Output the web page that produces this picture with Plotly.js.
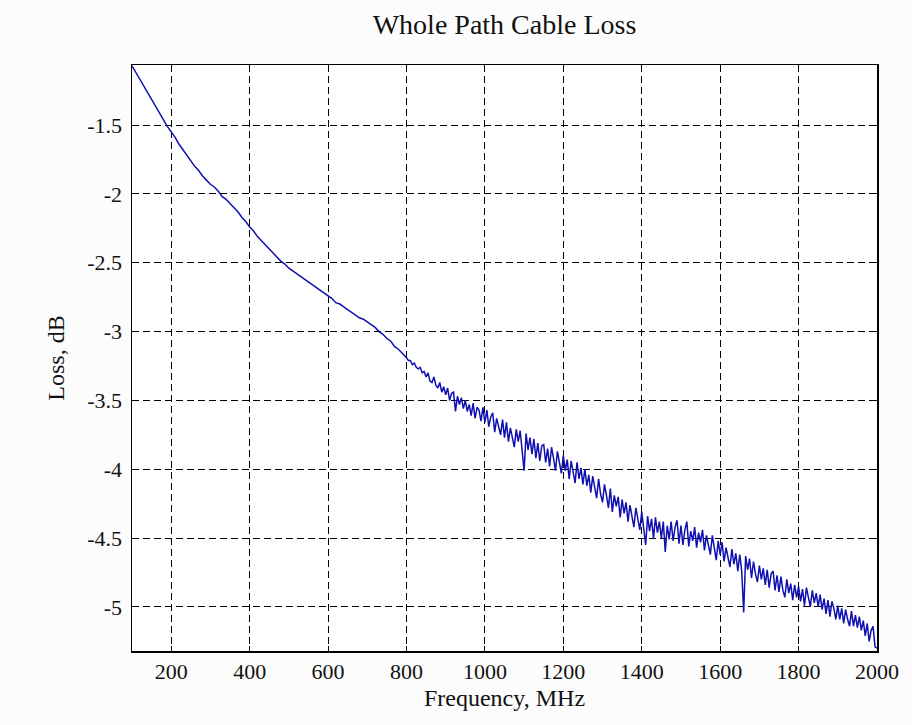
<!DOCTYPE html>
<html>
<head>
<meta charset="utf-8">
<script src="https://cdn.plot.ly/plotly-3.0.1.min.js"></script>
<style>
  html, body { margin: 0; padding: 0; background: #fcfcfc; }
  #chart { width: 912px; height: 725px; }
</style>
</head>
<body>
<div id="chart"></div>
<script>
// Low band of the sweep: 100 ... 800 MHz, 10 MHz steps
const lowStart = 100;
const lowStep = 10;
const lowLossDb = [
  -1.07, -1.12, -1.17, -1.22, -1.27, -1.32, -1.37, -1.41, -1.46, -1.51,
  -1.55, -1.59, -1.64, -1.68, -1.72, -1.76, -1.80, -1.83, -1.87, -1.90,
  -1.93, -1.95, -1.98, -2.02, -2.04, -2.07, -2.10, -2.13, -2.17, -2.20,
  -2.24, -2.27, -2.31, -2.34, -2.37, -2.40, -2.43, -2.46, -2.49, -2.51,
  -2.54, -2.56, -2.58, -2.60, -2.62, -2.64, -2.66, -2.68, -2.70, -2.72,
  -2.74, -2.76, -2.79, -2.80, -2.82, -2.84, -2.86, -2.88, -2.90, -2.91,
  -2.93, -2.95, -2.97, -3.00, -3.02, -3.05, -3.07, -3.11, -3.13, -3.16,
  -3.19
];

// High band of the sweep: 800 ... 2000 MHz, 5 MHz steps
const highStart = 800;
const highStep = 5;
const highLossDb = [
  -3.19, -3.21, -3.21, -3.24, -3.23, -3.26, -3.27, -3.26, -3.30, -3.29,
  -3.33, -3.30, -3.36, -3.37, -3.33, -3.39, -3.41, -3.37, -3.44, -3.40,
  -3.46, -3.41, -3.50, -3.45, -3.44, -3.58, -3.47, -3.53, -3.48, -3.56,
  -3.50, -3.58, -3.53, -3.61, -3.52, -3.63, -3.55, -3.57, -3.65, -3.55,
  -3.66, -3.57, -3.69, -3.62, -3.59, -3.73, -3.63, -3.70, -3.75, -3.64,
  -3.77, -3.66, -3.80, -3.70, -3.76, -3.84, -3.71, -3.80, -3.72, -3.86,
  -4.01, -3.74, -3.86, -3.77, -3.89, -3.78, -3.92, -3.81, -3.94, -3.83,
  -3.82, -3.95, -3.85, -3.98, -3.84, -3.92, -4.01, -3.87, -3.94, -4.03,
  -3.90, -4.01, -3.93, -4.07, -3.94, -4.01, -4.10, -3.95, -4.07, -3.99,
  -4.11, -4.00, -4.12, -4.04, -4.17, -4.05, -4.13, -4.21, -4.07, -4.18,
  -4.24, -4.11, -4.19, -4.28, -4.14, -4.31, -4.19, -4.27, -4.20, -4.35,
  -4.22, -4.32, -4.24, -4.38, -4.26, -4.33, -4.42, -4.28, -4.37, -4.44,
  -4.31, -4.43, -4.55, -4.34, -4.45, -4.36, -4.50, -4.35, -4.46, -4.38,
  -4.50, -4.38, -4.60, -4.41, -4.51, -4.38, -4.52, -4.42, -4.37, -4.54,
  -4.41, -4.55, -4.44, -4.38, -4.56, -4.45, -4.52, -4.42, -4.57, -4.46,
  -4.53, -4.44, -4.59, -4.48, -4.55, -4.62, -4.48, -4.59, -4.66, -4.52,
  -4.62, -4.53, -4.67, -4.57, -4.63, -4.71, -4.58, -4.69, -4.61, -4.74,
  -4.62, -4.74, -5.04, -4.63, -4.73, -4.65, -4.79, -4.67, -4.76, -4.82,
  -4.70, -4.80, -4.72, -4.84, -4.73, -4.86, -4.76, -4.74, -4.88, -4.77,
  -4.89, -4.78, -4.88, -4.93, -4.80, -4.90, -4.83, -4.95, -4.84, -4.93,
  -4.85, -4.96, -4.87, -4.99, -4.86, -4.93, -5.00, -4.88, -4.97, -4.90,
  -5.00, -4.91, -5.02, -4.94, -5.05, -4.95, -5.07, -4.96, -5.01, -5.09,
  -4.99, -5.09, -5.01, -5.12, -5.02, -5.09, -5.14, -5.03, -5.14, -5.06,
  -5.15, -5.07, -5.17, -5.10, -5.21, -5.12, -5.25, -5.17, -5.14, -5.29,
  -5.30
];

// Axis ticks
const freqTicks = [200, 400, 600, 800, 1000, 1200, 1400, 1600, 1800, 2000];
const freqTickLabels = ['200', '400', '600', '800', '1000', '1200', '1400', '1600', '1800', '2000'];
const lossTicks = [-5, -4.5, -4, -3.5, -3, -2.5, -2, -1.5];
const lossTickLabels = ['-5', '-4.5', '-4', '-3.5', '-3', '-2.5', '-2', '-1.5'];

const serif = 'Liberation Serif, Times New Roman, serif';
const lineStyle = { color: '#1010b0', width: 1.5 };

const traces = [
  { type: 'scatter', mode: 'lines', x0: lowStart, dx: lowStep, y: lowLossDb, line: lineStyle },
  { type: 'scatter', mode: 'lines', x0: highStart, dx: highStep, y: highLossDb, line: lineStyle }
];

const axisCommon = {
  showline: true,
  linecolor: '#000',
  linewidth: 1.5,
  mirror: 'ticks',
  ticks: 'inside',
  ticklen: 5,
  tickcolor: '#000',
  showgrid: true,
  gridcolor: '#000',
  gridwidth: 1,
  griddash: '7px,4px',
  zeroline: false,
  tickfont: { family: serif, size: 22, color: '#111' }
};

const layout = {
  width: 912,
  height: 725,
  margin: { l: 132, r: 35, t: 65, b: 74 },
  paper_bgcolor: '#fcfcfc',
  plot_bgcolor: '#ffffff',
  showlegend: false,
  title: {
    text: 'Whole Path Cable Loss',
    font: { family: serif, size: 28, color: '#111' },
    x: 0.5, xref: 'paper', xanchor: 'center',
    y: 0.966, yref: 'container', yanchor: 'middle'
  },
  xaxis: Object.assign({}, axisCommon, {
    range: [100, 2000],
    tickmode: 'array',
    tickvals: freqTicks,
    ticktext: freqTickLabels,
    title: { text: 'Frequency, MHz', font: { family: serif, size: 24, color: '#111' }, standoff: 6 }
  }),
  yaxis: Object.assign({}, axisCommon, {
    range: [-5.32, -1.064],
    tickmode: 'array',
    tickvals: lossTicks,
    ticktext: lossTickLabels,
    ticklabelstandoff: 4,
    title: { text: 'Loss, dB', font: { family: serif, size: 24, color: '#111' }, standoff: 16 }
  })
};

Plotly.newPlot('chart', traces, layout, { displayModeBar: false, staticPlot: true });
</script>
</body>
</html>
